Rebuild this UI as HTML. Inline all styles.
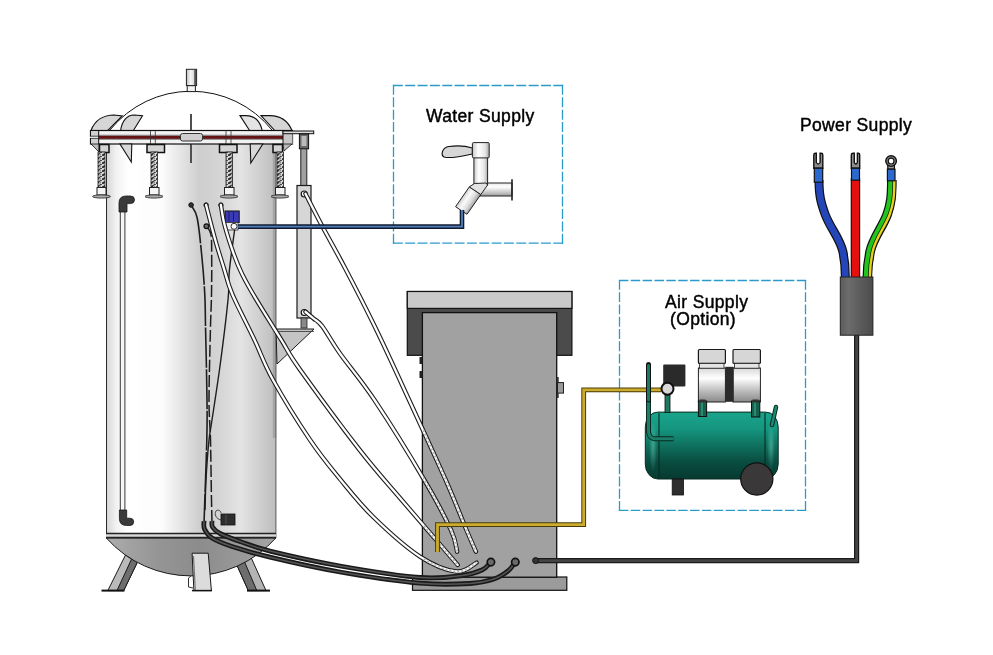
<!DOCTYPE html>
<html><head><meta charset="utf-8">
<style>
html,body{margin:0;padding:0;background:#fff;width:993px;height:655px;overflow:hidden}
svg{display:block}
text{font-family:"Liberation Sans",sans-serif;fill:#000;stroke:#000;stroke-width:0.45px;letter-spacing:0.35px}
</style></head><body>
<svg width="993" height="655" viewBox="0 0 993 655">
<defs>
<linearGradient id="tankG" x1="106" x2="276" y1="0" y2="0" gradientUnits="userSpaceOnUse">
<stop offset="0" stop-color="#d4d4d4"/><stop offset="0.06" stop-color="#f2f2f2"/><stop offset="0.13" stop-color="#ffffff"/>
<stop offset="0.33" stop-color="#fcfcfc"/><stop offset="0.55" stop-color="#cecece"/><stop offset="0.66" stop-color="#d4d4d4"/><stop offset="0.79" stop-color="#e4e4e4"/>
<stop offset="0.93" stop-color="#cacaca"/><stop offset="1" stop-color="#bdbdbd"/>
</linearGradient>
<linearGradient id="bdomeG" x1="106" x2="276" y1="0" y2="0" gradientUnits="userSpaceOnUse">
<stop offset="0" stop-color="#adadad"/><stop offset="0.3" stop-color="#959595"/><stop offset="0.55" stop-color="#8c8c8c"/><stop offset="0.8" stop-color="#999999"/><stop offset="1" stop-color="#a6a6a6"/>
</linearGradient>
<linearGradient id="nozG" x1="0" x2="1" y1="0" y2="0">
<stop offset="0" stop-color="#bdbdbd"/><stop offset="0.4" stop-color="#f4f4f4"/><stop offset="1" stop-color="#c8c8c8"/>
</linearGradient>
<pattern id="thread" x="0" y="0" width="6" height="4" patternUnits="userSpaceOnUse">
<rect width="6" height="4" fill="#d8d8d8"/><path d="M0,3 L6,0 M0,4 L3,2.5" stroke="#2a2a2a" stroke-width="1.1"/><rect x="3.5" y="2.2" width="1.2" height="1.2" fill="#555"/>
</pattern>
<linearGradient id="tealG" x1="0" x2="0" y1="0" y2="1">
<stop offset="0" stop-color="#1aa48c"/><stop offset="0.25" stop-color="#15967f"/><stop offset="0.5" stop-color="#0f705e"/><stop offset="0.75" stop-color="#094c40"/><stop offset="1" stop-color="#063a31"/>
</linearGradient>
<linearGradient id="motorG" x1="0" x2="0" y1="0" y2="1">
<stop offset="0" stop-color="#d8d8d8"/><stop offset="0.3" stop-color="#ffffff"/><stop offset="0.7" stop-color="#b8b8b8"/><stop offset="1" stop-color="#8a8a8a"/>
</linearGradient>
<linearGradient id="sheathG" x1="0" x2="1" y1="0" y2="0">
<stop offset="0" stop-color="#5c5c5c"/><stop offset="0.25" stop-color="#6c6c6c"/><stop offset="0.6" stop-color="#5c5c5c"/><stop offset="1" stop-color="#4c4c4c"/>
</linearGradient>
</defs>
<!-- ===== Dashed boxes ===== -->
<line x1="392.9" y1="85.5" x2="563.1" y2="85.5" stroke="#2a9acb" stroke-width="1.3" stroke-dasharray="9.94,2.40"/>
<line x1="562.5" y1="84.8" x2="562.5" y2="243.8" stroke="#2a9acb" stroke-width="1.3" stroke-dasharray="10.02,2.40"/>
<line x1="392.9" y1="243.2" x2="563.1" y2="243.2" stroke="#2a9acb" stroke-width="1.3" stroke-dasharray="9.94,2.40"/>
<line x1="393.5" y1="84.8" x2="393.5" y2="243.8" stroke="#2a9acb" stroke-width="1.3" stroke-dasharray="10.02,2.40"/>
<line x1="618.9" y1="280.5" x2="806.1" y2="280.5" stroke="#2a9acb" stroke-width="1.3" stroke-dasharray="9.46,2.40"/>
<line x1="805.5" y1="279.9" x2="805.5" y2="511.0" stroke="#2a9acb" stroke-width="1.3" stroke-dasharray="9.89,2.40"/>
<line x1="618.9" y1="510.4" x2="806.1" y2="510.4" stroke="#2a9acb" stroke-width="1.3" stroke-dasharray="9.46,2.40"/>
<line x1="619.5" y1="279.9" x2="619.5" y2="511.0" stroke="#2a9acb" stroke-width="1.3" stroke-dasharray="9.89,2.40"/>
<!-- ===== Texts ===== -->
<g style="will-change:transform"><text x="426" y="122" font-size="17.5">Water Supply</text>
<text x="665" y="308" font-size="17.5">Air Supply</text>
<text x="670" y="325" font-size="17.5">(Option)</text>
<text x="800" y="131" font-size="17.5">Power Supply</text></g>
<g id="tank">
  <!-- legs -->
  <polygon points="125.5,555 137,563 123.7,590.6 107.8,590.6" fill="#bababa" stroke="#1a1a1a" stroke-width="1"/>
  <polygon points="131.6,559 137,563 123.7,590.6 117,590.6" fill="#6e6e6e"/>
  <line x1="137" y1="563" x2="123.7" y2="590.6" stroke="#1a1a1a" stroke-width="1"/>
  <line x1="131.6" y1="559" x2="117" y2="590.6" stroke="#1a1a1a" stroke-width="1"/>
  <line x1="101.5" y1="590.6" x2="124.5" y2="590.6" stroke="#111" stroke-width="2"/>
  <polygon points="237.3,566 251.3,558 266,590.6 248.3,590.6" fill="#b4b4b4" stroke="#1a1a1a" stroke-width="1"/>
  <polygon points="237.3,566 244.6,562 256.8,590.6 248.3,590.6" fill="#6e6e6e"/>
  <line x1="237.3" y1="566" x2="248.3" y2="590.6" stroke="#1a1a1a" stroke-width="1"/>
  <line x1="244.6" y1="562" x2="256.8" y2="590.6" stroke="#1a1a1a" stroke-width="1"/>
  <line x1="247" y1="590.6" x2="270" y2="590.6" stroke="#111" stroke-width="2"/>
  <!-- bottom dome -->
  <path d="M106.3,538 A113.7,113.7 0 0 0 275.8,538 Z" fill="url(#bdomeG)" stroke="#1a1a1a" stroke-width="1"/>
  <!-- drain -->
  <path d="M191,576 L188.5,578 L188.5,587 L193,588" fill="none" stroke="#333" stroke-width="1"/>
  <!-- middle leg -->
  <polygon points="192.1,553.2 208.2,553.2 211.4,590.6 193.9,590.6" fill="#dcdcdc" stroke="#1a1a1a" stroke-width="1"/>
  <line x1="193.5" y1="556" x2="195.3" y2="590" stroke="#777" stroke-width="1.2"/>
  <line x1="192" y1="590.6" x2="212" y2="590.6" stroke="#111" stroke-width="1.5"/>
  <!-- cylinder -->
  <rect x="106" y="144" width="170" height="390" fill="url(#tankG)"/>
  <line x1="106.5" y1="144" x2="106.5" y2="538" stroke="#2a2a2a" stroke-width="1"/>
  <rect x="272.8" y="144" width="3.4" height="294" fill="#a4a4a4"/>
  <line x1="275.9" y1="144" x2="275.9" y2="538" stroke="#666" stroke-width="1.1"/>
  <rect x="106" y="533" width="170" height="5" fill="#d8d8d8"/>
  <line x1="106" y1="533.5" x2="276" y2="533.5" stroke="#222" stroke-width="1.3"/>
  <line x1="106" y1="537.5" x2="276" y2="537.5" stroke="#222" stroke-width="1.3"/>
  <!-- top dome -->
  <path d="M110,130 A104,104 0 0 1 272,130" fill="#fff" stroke="#111" stroke-width="1"/>
  <rect x="187.2" y="85.6" width="8.2" height="6" fill="#f4f4f4" stroke="#222" stroke-width="1"/>
  <rect x="186.4" y="69.3" width="10.2" height="16.3" fill="url(#nozG)" stroke="#222" stroke-width="1"/>
  <rect x="194.2" y="70" width="1.8" height="15" fill="#555"/>
  <!-- fins above band -->
  <path d="M91,130.5 C95,120 104,115 114,115 L122.2,116 L107.8,130.5 Z" fill="#d6d6d6" stroke="#111" stroke-width="1.1"/>
  <path d="M120.6,130.5 C122,121 127,115 134,115 L142.5,115.8 L133.4,130.5 Z" fill="#d6d6d6" stroke="#111" stroke-width="1.1"/>
  <path d="M240,115.6 L249.6,130.5 L262.2,130.5 C260,121 254,115.6 246,115.6 Z" fill="#e4e4e4" stroke="#111" stroke-width="1.1"/>
  <path d="M261,115.6 L274.8,130.5 L292,130.5 C288,121 280,115.6 270,115.6 Z" fill="#d6d6d6" stroke="#111" stroke-width="1.1"/>
  <!-- band -->
  <rect x="90.5" y="130.5" width="202" height="13.5" fill="#f2f2f2" stroke="#111" stroke-width="1.2"/>
  <rect x="98.7" y="135.7" width="184.3" height="3.2" fill="#641414"/>
  <line x1="91" y1="135.2" x2="283" y2="135.2" stroke="#444" stroke-width="0.6"/>
  <line x1="91" y1="139.4" x2="283" y2="139.4" stroke="#444" stroke-width="0.6"/>
  <rect x="91" y="131" width="8" height="13" fill="#d0d0d0"/>
  <line x1="86" y1="137.3" x2="99" y2="137.3" stroke="#fff" stroke-width="1.2"/>
  <line x1="91" y1="136.2" x2="99" y2="136.2" stroke="#222" stroke-width="0.8"/>
  <line x1="91" y1="138.4" x2="99" y2="138.4" stroke="#222" stroke-width="0.8"/>
  <rect x="283" y="131" width="9.5" height="13" fill="#c8c8c8"/>
  <line x1="98.7" y1="130.5" x2="98.7" y2="144" stroke="#111" stroke-width="1"/>
  <line x1="283" y1="130.5" x2="283" y2="144" stroke="#111" stroke-width="1"/>
  <line x1="150.5" y1="130.5" x2="150.5" y2="144" stroke="#333" stroke-width="0.8"/>
  <line x1="155.3" y1="130.5" x2="155.3" y2="144" stroke="#333" stroke-width="0.8"/>
  <line x1="226" y1="130.5" x2="226" y2="144" stroke="#333" stroke-width="0.8"/>
  <line x1="231" y1="130.5" x2="231" y2="144" stroke="#333" stroke-width="0.8"/>
  <rect x="180.5" y="133.5" width="22" height="7.5" rx="2" fill="#cfcfcf" stroke="#333" stroke-width="1"/>
  <line x1="191" y1="114" x2="191" y2="130.5" stroke="#222" stroke-width="1.6"/>
  <line x1="191" y1="144" x2="191" y2="163" stroke="#222" stroke-width="1.5"/>
  <!-- lower fins -->
  <polygon points="120,144 131.8,144 131.3,162" fill="#d8d8d8" stroke="#111" stroke-width="1.1"/>
  <polygon points="250.2,144 262.8,144 250.8,163" fill="#d8d8d8" stroke="#111" stroke-width="1.1"/>
  <polygon points="91,144 99,144 99,152" fill="#bbb" stroke="#111" stroke-width="0.8"/>
  <polygon points="283,144 292,144 284,151" fill="#bbb" stroke="#111" stroke-width="0.8"/>
  <!-- swing bolts -->
  <g id="bolt1" transform="translate(0,0)">
    <rect x="99.5" y="144.5" width="9.5" height="8" fill="#d4d4d4" stroke="#111" stroke-width="1.5"/>
    <rect x="98" y="152" width="7" height="36" fill="url(#thread)" stroke="#222" stroke-width="0.8"/>
    <rect x="97" y="187.5" width="9" height="7.5" fill="#f4f4f4" stroke="#222" stroke-width="1"/>
    <ellipse cx="101.5" cy="196.5" rx="9" ry="1.6" fill="#aaa" stroke="#222" stroke-width="0.8"/>
  </g>
  <g>
    <rect x="147" y="144.5" width="17.5" height="8" fill="#d4d4d4" stroke="#111" stroke-width="1.5"/>
    <rect x="151" y="152" width="6.5" height="36" fill="url(#thread)" stroke="#222" stroke-width="0.8"/>
    <rect x="149.5" y="187.5" width="9.5" height="7.5" fill="#f4f4f4" stroke="#222" stroke-width="1"/>
    <ellipse cx="154" cy="196.5" rx="9" ry="1.6" fill="#aaa" stroke="#222" stroke-width="0.8"/>
  </g>
  <g>
    <rect x="219.5" y="144.5" width="17.5" height="8" fill="#d4d4d4" stroke="#111" stroke-width="1.5"/>
    <rect x="226" y="152" width="6.5" height="36" fill="url(#thread)" stroke="#222" stroke-width="0.8"/>
    <rect x="224.5" y="187.5" width="9.5" height="7.5" fill="#f4f4f4" stroke="#222" stroke-width="1"/>
    <ellipse cx="229" cy="196.5" rx="9" ry="1.6" fill="#aaa" stroke="#222" stroke-width="0.8"/>
  </g>
  <g>
    <rect x="273" y="144.5" width="9.5" height="8" fill="#d4d4d4" stroke="#111" stroke-width="1.5"/>
    <rect x="277" y="152" width="6.5" height="36" fill="url(#thread)" stroke="#222" stroke-width="0.8"/>
    <rect x="275.5" y="187.5" width="9.5" height="7.5" fill="#f4f4f4" stroke="#222" stroke-width="1"/>
    <ellipse cx="280" cy="196.5" rx="9" ry="1.6" fill="#aaa" stroke="#222" stroke-width="0.8"/>
  </g>
  <!-- post & strut -->
  <rect x="283" y="131" width="30.7" height="2.7" fill="#ddd" stroke="#111" stroke-width="1"/>
  <rect x="299.4" y="134" width="9.2" height="14.8" fill="#6a6a6a" stroke="#111" stroke-width="1"/>
  <rect x="301.5" y="136" width="5" height="10" fill="#bbb"/>
  <rect x="300.8" y="148.8" width="6" height="37" fill="#a0a0a0" stroke="#222" stroke-width="1"/>
  <rect x="297" y="185.5" width="14" height="132.5" fill="#d6d6d6" stroke="#1a1a1a" stroke-width="1.2"/>
  <circle cx="304.2" cy="194" r="3" fill="#fff" stroke="#111" stroke-width="1.2"/>
  <circle cx="304.2" cy="312.5" r="3" fill="#fff" stroke="#111" stroke-width="1.2"/>
  <rect x="301" y="318" width="6" height="10" fill="#888" stroke="#222" stroke-width="0.8"/>
  <polygon points="276,329 314,329 277,364" fill="#c4c4c4" stroke="#1a1a1a" stroke-width="1"/>
  <line x1="276" y1="331.5" x2="314" y2="331.5" stroke="#333" stroke-width="0.8"/>
  <!-- sight glass -->
  <rect x="120.3" y="211" width="4.6" height="300" fill="#f6f6f6" stroke="#3a3a3a" stroke-width="1"/>
  <path d="M119,212 L119,203 Q119,196 126,196 L130.5,196 Q134.5,196 134.5,199.8 Q134.5,203.6 130.5,203.6 L127,203.6 L127,212 Z" fill="#3a3a3a" stroke="#1a1a1a" stroke-width="0.8"/>
  <path d="M119.4,510 L119.4,518.5 Q119.4,525.5 126.5,525.5 L130,525.5 Q133.7,525.5 133.7,521.8 Q133.7,518.2 130,518.2 L126.7,518.2 L126.7,510 Z" fill="#3a3a3a" stroke="#1a1a1a" stroke-width="0.8"/>
  <!-- small box near bottom -->
  <path d="M221,520 C216,519 214,514 216,511 C218,509 221,511 221,513" fill="none" stroke="#333" stroke-width="0.9"/>
  <rect x="221" y="514" width="14" height="11" fill="#2e2e2e" stroke="#111" stroke-width="0.8"/>
  <line x1="226" y1="514.5" x2="226" y2="524.5" stroke="#555" stroke-width="0.8"/>
</g>
<!-- ===== Cabinet ===== -->
<g id="cabinet">
  <rect x="407.3" y="291.5" width="164.6" height="63.8" fill="#4b4b4b" stroke="#111" stroke-width="1.2"/>
  <rect x="407.3" y="291.5" width="164.6" height="16.9" fill="#c9c9c9" stroke="#111" stroke-width="1.2"/>
  <rect x="412.5" y="577" width="154.3" height="13.3" fill="#9b9b9b" stroke="#111" stroke-width="1.2"/>
  <rect x="422.4" y="312.6" width="134.3" height="264.6" fill="#a1a1a1" stroke="#111" stroke-width="1.3"/>
  <rect x="419.5" y="357" width="3" height="7" fill="#222"/>
  <rect x="419.5" y="371" width="3" height="7" fill="#222"/>
  <rect x="556.7" y="377" width="2" height="21" fill="#333"/>
  <rect x="557.5" y="382.6" width="6" height="10.5" fill="#9a9a9a" stroke="#222" stroke-width="1"/>
</g>
<!-- ===== Water tap ===== -->
<defs>
<linearGradient id="stemG" x1="0" x2="1" y1="0" y2="0">
<stop offset="0" stop-color="#c8c8c8"/><stop offset="0.35" stop-color="#ffffff"/><stop offset="0.75" stop-color="#e6e6e6"/><stop offset="1" stop-color="#a8a8a8"/>
</linearGradient>
<linearGradient id="spoutG" x1="0" x2="0" y1="0" y2="1">
<stop offset="0" stop-color="#e8e8e8"/><stop offset="0.3" stop-color="#ffffff"/><stop offset="0.75" stop-color="#c4c4c4"/><stop offset="1" stop-color="#9a9a9a"/>
</linearGradient>
<linearGradient id="inletG" x1="462.4" y1="196.8" x2="473.9" y2="204.4" gradientUnits="userSpaceOnUse">
<stop offset="0" stop-color="#d0d0d0"/><stop offset="0.35" stop-color="#fbfbfb"/><stop offset="0.7" stop-color="#dcdcdc"/><stop offset="1" stop-color="#a0a0a0"/>
</linearGradient>
</defs>
<g id="tap">
  <rect x="225" y="211" width="14.2" height="11.5" fill="#3a3ab4" stroke="#111" stroke-width="1"/>
  <line x1="229" y1="212" x2="229" y2="221.5" stroke="#1a1a6a" stroke-width="1"/>
  <line x1="233.5" y1="212" x2="233.5" y2="221.5" stroke="#1a1a6a" stroke-width="1"/>
  <rect x="225" y="222.5" width="13" height="7.5" fill="#f0f0f0" stroke="#333" stroke-width="0.8"/>
  <circle cx="234" cy="226.3" r="3" fill="#fff" stroke="#333" stroke-width="1"/>
  <!-- tap body -->
  <rect x="480" y="183" width="32" height="13" fill="url(#spoutG)" stroke="#222" stroke-width="1"/>
  <line x1="512" y1="179.2" x2="512" y2="200.6" stroke="#222" stroke-width="1.6"/>
  <rect x="473.9" y="157" width="13.7" height="28" fill="url(#stemG)" stroke="#222" stroke-width="1"/>
  <polygon points="455.6,206.7 467,214.3 480.8,194.5 469.3,186.9" fill="url(#inletG)" stroke="#222" stroke-width="1"/>
  <polygon points="469.3,186.9 480.8,194.5 487.6,185 486,183 474.5,183.5" fill="#e2e2e2" stroke="#222" stroke-width="1"/>
  <path d="M472.4,148 C466,146 456,145.5 449,146.5 C442,147.5 440.5,155 444,157 C452,159 462,156 472.4,154 Z" fill="#d6d6d6" stroke="#111" stroke-width="1.2"/>
  <rect x="472.4" y="142.6" width="16.8" height="15.3" rx="1" fill="url(#stemG)" stroke="#222" stroke-width="1"/>
</g>
<defs><clipPath id="cabClip"><rect x="423" y="313" width="134" height="264"/></clipPath></defs>
<g id="hoses">
<path d="M191.1,205.0 C192.1,207.2 195.4,209.5 197.2,218.0 C199.0,226.5 200.5,243.2 201.8,256.0 C203.1,268.8 204.2,282.7 204.8,295.0 C205.4,307.3 205.2,312.5 205.6,330.0 C206.0,347.5 206.8,381.7 207.0,400.0 C207.2,418.3 207.2,423.3 206.8,440.0 C206.4,456.7 205.3,486.0 204.8,500.0 C204.3,514.0 204.1,520.0 204.0,524.0" fill="none" stroke="#1e1e1e" stroke-width="1.6" stroke-dasharray="40,1.5"/>
<path d="M206.4,226.3 C207.2,227.7 210.1,229.1 211.0,234.7 C211.9,240.3 211.6,249.9 211.7,260.0 C211.8,270.1 211.7,283.3 211.5,295.0 C211.3,306.7 210.8,312.5 210.4,330.0 C210.0,347.5 209.0,381.7 209.0,400.0 C209.0,418.3 210.1,423.3 210.5,440.0 C210.9,456.7 211.2,486.0 211.5,500.0 C211.8,514.0 211.9,520.0 212.0,524.0" fill="none" stroke="#1e1e1e" stroke-width="1.5" stroke-dasharray="12,3"/>
<path d="M234.6,230.0 C233.7,236.9 230.4,259.6 229.3,271.3 C228.2,283.0 229.6,284.2 228.0,300.0 C226.4,315.8 222.7,346.0 220.0,366.0 C217.3,386.0 213.9,407.3 212.0,420.0 C210.1,432.7 209.8,432.0 208.8,442.0 C207.8,452.0 206.6,468.7 206.0,480.0 C205.4,491.3 205.2,505.0 205.0,510.0" fill="none" stroke="#1e1e1e" stroke-width="1.4"/>
<circle cx="191.1" cy="205" r="2.3" fill="#333" stroke="#111" stroke-width="1"/>
<circle cx="206.4" cy="226.3" r="2.4" fill="#666" stroke="#111" stroke-width="1.2"/>
<circle cx="206.1" cy="205" r="2.2" fill="#ddd" stroke="#222" stroke-width="1"/>
<circle cx="220.9" cy="205" r="2.2" fill="#ddd" stroke="#222" stroke-width="1"/>
<path d="M206.1,205.0 C207.7,211.0 212.5,230.2 215.5,240.8 C218.5,251.4 221.1,259.4 223.9,268.3 C226.7,277.2 227.2,282.2 232.3,294.2 C237.4,306.1 247.7,325.7 254.5,340.0 C261.3,354.3 263.8,363.3 273.1,380.0 C282.4,396.7 298.9,423.4 310.1,440.0 C321.3,456.6 329.8,466.6 340.3,479.4 C350.8,492.2 360.0,504.1 373.3,517.0 C386.6,529.9 406.1,547.5 420.0,556.6 C433.9,565.7 447.2,570.5 456.6,571.5 C466.0,572.5 473.2,564.2 476.5,562.7" fill="none" stroke="#1e1e1e" stroke-width="4.5" stroke-linecap="round"/>
<path d="M206.1,205.0 C207.7,211.0 212.5,230.2 215.5,240.8 C218.5,251.4 221.1,259.4 223.9,268.3 C226.7,277.2 227.2,282.2 232.3,294.2 C237.4,306.1 247.7,325.7 254.5,340.0 C261.3,354.3 263.8,363.3 273.1,380.0 C282.4,396.7 298.9,423.4 310.1,440.0 C321.3,456.6 329.8,466.6 340.3,479.4 C350.8,492.2 360.0,504.1 373.3,517.0 C386.6,529.9 406.1,547.5 420.0,556.6 C433.9,565.7 447.2,570.5 456.6,571.5 C466.0,572.5 473.2,564.2 476.5,562.7" fill="none" stroke="#ffffff" stroke-width="2.3" stroke-linecap="round"/>
<path d="M206.1,205.0 C207.7,211.0 212.5,230.2 215.5,240.8 C218.5,251.4 221.1,259.4 223.9,268.3 C226.7,277.2 227.2,282.2 232.3,294.2 C237.4,306.1 247.7,325.7 254.5,340.0 C261.3,354.3 263.8,363.3 273.1,380.0 C282.4,396.7 298.9,423.4 310.1,440.0 C321.3,456.6 329.8,466.6 340.3,479.4 C350.8,492.2 360.0,504.1 373.3,517.0 C386.6,529.9 406.1,547.5 420.0,556.6 C433.9,565.7 447.2,570.5 456.6,571.5 C466.0,572.5 473.2,564.2 476.5,562.7" fill="none" stroke="#b8b8b8" stroke-width="2.3" stroke-dasharray="2,2" clip-path="url(#cabClip)"/>
<path d="M220.9,205.0 C221.5,208.4 222.5,217.2 224.7,225.5 C226.9,233.8 231.0,246.3 233.9,254.5 C236.8,262.6 238.5,266.8 242.3,274.4 C246.1,282.0 250.1,289.1 256.6,300.0 C263.1,310.9 274.2,328.4 281.4,340.0 C288.6,351.6 286.9,351.3 300.0,369.6 C313.1,387.9 342.8,428.3 359.7,450.0 C376.6,471.7 385.4,480.9 401.7,500.0 C418.0,519.1 448.4,554.1 457.7,564.9" fill="none" stroke="#1e1e1e" stroke-width="4.5" stroke-linecap="round"/>
<path d="M220.9,205.0 C221.5,208.4 222.5,217.2 224.7,225.5 C226.9,233.8 231.0,246.3 233.9,254.5 C236.8,262.6 238.5,266.8 242.3,274.4 C246.1,282.0 250.1,289.1 256.6,300.0 C263.1,310.9 274.2,328.4 281.4,340.0 C288.6,351.6 286.9,351.3 300.0,369.6 C313.1,387.9 342.8,428.3 359.7,450.0 C376.6,471.7 385.4,480.9 401.7,500.0 C418.0,519.1 448.4,554.1 457.7,564.9" fill="none" stroke="#ffffff" stroke-width="2.3" stroke-linecap="round"/>
<path d="M220.9,205.0 C221.5,208.4 222.5,217.2 224.7,225.5 C226.9,233.8 231.0,246.3 233.9,254.5 C236.8,262.6 238.5,266.8 242.3,274.4 C246.1,282.0 250.1,289.1 256.6,300.0 C263.1,310.9 274.2,328.4 281.4,340.0 C288.6,351.6 286.9,351.3 300.0,369.6 C313.1,387.9 342.8,428.3 359.7,450.0 C376.6,471.7 385.4,480.9 401.7,500.0 C418.0,519.1 448.4,554.1 457.7,564.9" fill="none" stroke="#b8b8b8" stroke-width="2.3" stroke-dasharray="2,2" clip-path="url(#cabClip)"/>
<path d="M305.5,193.8 C308.2,199.0 315.0,212.6 321.6,225.0 C328.2,237.4 335.9,250.7 345.0,268.0 C354.1,285.3 365.3,307.0 376.0,329.0 C386.7,351.0 397.5,374.8 409.1,400.0 C420.7,425.2 436.1,458.3 445.7,480.0 C455.3,501.7 461.5,518.1 466.5,530.0 C471.5,541.9 474.3,548.0 475.9,551.6" fill="none" stroke="#1e1e1e" stroke-width="4.5" stroke-linecap="round"/>
<path d="M305.5,193.8 C308.2,199.0 315.0,212.6 321.6,225.0 C328.2,237.4 335.9,250.7 345.0,268.0 C354.1,285.3 365.3,307.0 376.0,329.0 C386.7,351.0 397.5,374.8 409.1,400.0 C420.7,425.2 436.1,458.3 445.7,480.0 C455.3,501.7 461.5,518.1 466.5,530.0 C471.5,541.9 474.3,548.0 475.9,551.6" fill="none" stroke="#ffffff" stroke-width="2.3" stroke-linecap="round"/>
<path d="M305.5,193.8 C308.2,199.0 315.0,212.6 321.6,225.0 C328.2,237.4 335.9,250.7 345.0,268.0 C354.1,285.3 365.3,307.0 376.0,329.0 C386.7,351.0 397.5,374.8 409.1,400.0 C420.7,425.2 436.1,458.3 445.7,480.0 C455.3,501.7 461.5,518.1 466.5,530.0 C471.5,541.9 474.3,548.0 475.9,551.6" fill="none" stroke="#b8b8b8" stroke-width="2.3" stroke-dasharray="2,2" clip-path="url(#cabClip)"/>
<path d="M305.5,311.8 C306.8,312.9 310.7,316.1 313.5,318.5 C316.3,320.9 317.9,320.5 322.3,326.3 C326.7,332.1 331.3,341.2 340.0,353.5 C348.7,365.8 360.4,378.9 374.5,400.0 C388.6,421.1 411.6,458.3 424.3,480.0 C437.1,501.7 445.5,518.1 451.0,530.0 C456.5,541.9 456.1,548.0 457.1,551.6" fill="none" stroke="#1e1e1e" stroke-width="4.5" stroke-linecap="round"/>
<path d="M305.5,311.8 C306.8,312.9 310.7,316.1 313.5,318.5 C316.3,320.9 317.9,320.5 322.3,326.3 C326.7,332.1 331.3,341.2 340.0,353.5 C348.7,365.8 360.4,378.9 374.5,400.0 C388.6,421.1 411.6,458.3 424.3,480.0 C437.1,501.7 445.5,518.1 451.0,530.0 C456.5,541.9 456.1,548.0 457.1,551.6" fill="none" stroke="#ffffff" stroke-width="2.3" stroke-linecap="round"/>
<path d="M305.5,311.8 C306.8,312.9 310.7,316.1 313.5,318.5 C316.3,320.9 317.9,320.5 322.3,326.3 C326.7,332.1 331.3,341.2 340.0,353.5 C348.7,365.8 360.4,378.9 374.5,400.0 C388.6,421.1 411.6,458.3 424.3,480.0 C437.1,501.7 445.5,518.1 451.0,530.0 C456.5,541.9 456.1,548.0 457.1,551.6" fill="none" stroke="#b8b8b8" stroke-width="2.3" stroke-dasharray="2,2" clip-path="url(#cabClip)"/>
<path d="M212.0,521.0 C212.1,522.0 211.2,524.9 212.5,527.0 C213.8,529.1 215.4,531.1 220.0,533.5 C224.6,535.9 231.7,538.6 240.0,541.5 C248.3,544.4 253.3,547.0 270.0,551.1 C286.7,555.2 315.0,561.6 340.0,566.0 C365.0,570.4 399.7,575.9 420.0,577.5 C440.3,579.1 451.7,576.8 462.0,575.5 C472.3,574.2 477.2,572.2 482.0,570.0 C486.8,567.8 489.4,563.4 490.9,562.1" fill="none" stroke="#1a1a1a" stroke-width="4.8"/>
<path d="M212.0,521.0 C212.1,522.0 211.2,524.9 212.5,527.0 C213.8,529.1 215.4,531.1 220.0,533.5 C224.6,535.9 231.7,538.6 240.0,541.5 C248.3,544.4 253.3,547.0 270.0,551.1 C286.7,555.2 315.0,561.6 340.0,566.0 C365.0,570.4 399.7,575.9 420.0,577.5 C440.3,579.1 451.7,576.8 462.0,575.5 C472.3,574.2 477.2,572.2 482.0,570.0 C486.8,567.8 489.4,563.4 490.9,562.1" fill="none" stroke="#555" stroke-width="1.5"/>
<path d="M204.0,521.0 C204.1,522.3 203.2,526.2 204.5,529.0 C205.8,531.8 207.4,535.1 212.0,538.0 C216.6,540.9 222.3,543.3 232.0,546.5 C241.7,549.7 252.0,553.0 270.0,557.2 C288.0,561.5 315.0,567.7 340.0,572.0 C365.0,576.3 398.3,581.3 420.0,583.2 C441.7,585.1 457.7,584.2 470.0,583.5 C482.3,582.8 487.7,581.1 494.0,579.0 C500.3,576.9 504.4,573.8 508.0,571.0 C511.6,568.2 514.1,563.6 515.3,562.1" fill="none" stroke="#1a1a1a" stroke-width="4.8"/>
<path d="M204.0,521.0 C204.1,522.3 203.2,526.2 204.5,529.0 C205.8,531.8 207.4,535.1 212.0,538.0 C216.6,540.9 222.3,543.3 232.0,546.5 C241.7,549.7 252.0,553.0 270.0,557.2 C288.0,561.5 315.0,567.7 340.0,572.0 C365.0,576.3 398.3,581.3 420.0,583.2 C441.7,585.1 457.7,584.2 470.0,583.5 C482.3,582.8 487.7,581.1 494.0,579.0 C500.3,576.9 504.4,573.8 508.0,571.0 C511.6,568.2 514.1,563.6 515.3,562.1" fill="none" stroke="#555" stroke-width="1.5"/>
<circle cx="490.9" cy="562.1" r="3.7" fill="#6a6a6a" stroke="#111" stroke-width="1.7"/>
<circle cx="515.3" cy="562.1" r="3.7" fill="#6a6a6a" stroke="#111" stroke-width="1.7"/>
</g>
  <path d="M238,226.6 L462,226.6 L462,210" fill="none" stroke="#121a30" stroke-width="4.6"/>
  <path d="M238,226.6 L462,226.6 L462,210" fill="none" stroke="#4f7fb8" stroke-width="1.8"/>
<path d="M437.5,552 L437.5,524.6 L583.7,524.6 L583.7,389.8 L661,389.8" fill="none" stroke="#4a3c08" stroke-width="4.8" stroke-linejoin="miter"/>
<path d="M437.5,552 L437.5,524.6 L583.7,524.6 L583.7,389.8 L661,389.8" fill="none" stroke="#ccac2c" stroke-width="2.8" stroke-linejoin="miter"/>
<!-- ===== Power ===== -->
<g id="power">
  <path d="M535,560.6 L856.6,560.6 L856.6,335" fill="none" stroke="#1a1a1a" stroke-width="5.2"/>
  <path d="M535,560.6 L856.6,560.6 L856.6,335" fill="none" stroke="#444" stroke-width="2.8"/>
  <circle cx="535.6" cy="560.6" r="3" fill="#333" stroke="#111" stroke-width="1"/>
  <path d="M819,180 C819,196 821,203 825,214 C830,228 840,238 843,252 C845,262 845.4,270 845.4,278" fill="none" stroke="#111" stroke-width="9"/>
  <path d="M819,180 C819,196 821,203 825,214 C830,228 840,238 843,252 C845,262 845.4,270 845.4,278" fill="none" stroke="#2446b8" stroke-width="6.6"/>
  <rect x="851.3" y="179" width="8.3" height="99" fill="#e41010" stroke="#111" stroke-width="1.2"/>
  <path d="M891.8,180 C891.8,196 891,204 887,215 C882,228 873,238 870,252 C868,262 867.3,270 867.3,278" fill="none" stroke="#111" stroke-width="9.6"/>
  <path d="M891.8,180 C891.8,196 891,204 887,215 C882,228 873,238 870,252 C868,262 867.3,270 867.3,278" fill="none" stroke="#22c41e" stroke-width="7.2"/>
  <path d="M894.3,180 C894.3,196 893.5,204 889.5,215 C884.5,228 875.5,238 872.5,252 C870.5,262 869.8,270 869.8,278" fill="none" stroke="#111" stroke-width="3.8"/>
  <path d="M894.3,180 C894.3,196 893.5,204 889.5,215 C884.5,228 875.5,238 872.5,252 C870.5,262 869.8,270 869.8,278" fill="none" stroke="#e6d21e" stroke-width="2.4"/>
  <rect x="840.3" y="277" width="32.6" height="58.2" fill="url(#sheathG)" stroke="#222" stroke-width="1"/>
  <!-- terminals -->
  <path d="M813.8,168.2 L813.8,155 Q813.8,153.3 815.5,153.3 L816.3,153.3 L816.3,162.5 Q818.2,165.5 820.1,162.5 L820.1,153.3 L821.2,153.3 Q822.8,153.3 822.8,155 L822.8,168.2 Z" fill="#8c8c8c" stroke="#111" stroke-width="1.4"/>
  <path d="M851.3,168.2 L851.3,155 Q851.3,153.3 853,153.3 L854.3,153.3 L854.3,162.5 Q855.9,165.5 857.4,162.5 L857.4,153.3 L858.2,153.3 Q859.7,153.3 859.7,155 L859.7,168.2 Z" fill="#8c8c8c" stroke="#111" stroke-width="1.4"/>
  <path d="M887.8,169.2 L887.8,164 L894.4,164 L894.4,169.2 Z" fill="#9a9a9a" stroke="#111" stroke-width="1.2"/>
  <circle cx="891.1" cy="161.1" r="5.3" fill="#8a8a8a" stroke="#111" stroke-width="1.4"/>
  <circle cx="891.1" cy="161.1" r="2.9" fill="#fff" stroke="#111" stroke-width="1.2"/>
  <rect x="814.3" y="168.2" width="8.4" height="14" fill="#2a6ad0" stroke="#111" stroke-width="1.2"/>
  <rect x="851.5" y="168.2" width="8" height="12" fill="#2a6ad0" stroke="#111" stroke-width="1.2"/>
  <rect x="887.4" y="169.2" width="7.6" height="11.6" fill="#2a6ad0" stroke="#111" stroke-width="1.2"/>
</g>
<!-- ===== Compressor ===== -->
<defs><radialGradient id="capHi"><stop offset="0" stop-color="#6fe0c8" stop-opacity="0.45"/><stop offset="1" stop-color="#6fe0c8" stop-opacity="0"/></radialGradient></defs>
<g id="compressor">
  <rect x="645.3" y="412.1" width="132.9" height="66.9" rx="12.5" ry="15" fill="url(#tealG)" stroke="#0a2a22" stroke-width="1"/>
  <ellipse cx="653" cy="446" rx="4" ry="26" fill="url(#capHi)"/>
  <ellipse cx="771" cy="446" rx="4" ry="24" fill="url(#capHi)"/>
  <line x1="659" y1="413" x2="659" y2="478.5" stroke="#0a2a22" stroke-width="1.1"/>
  <line x1="765" y1="413" x2="765" y2="478.5" stroke="#0a2a22" stroke-width="1.1"/>
  <path d="M648.5,366 L648.5,432 Q649.5,438.7 655,438.7 L673.5,438.7" fill="none" stroke="#0a2a22" stroke-width="5"/>
  <path d="M648.5,366 L648.5,432 Q649.5,438.7 655,438.7 L673.5,438.7" fill="none" stroke="#1a7e68" stroke-width="3"/>
  <rect x="672.2" y="479" width="11.3" height="16" fill="#2e2e2e" stroke="#111" stroke-width="0.8"/>
  <circle cx="756.8" cy="479" r="16.1" fill="#3a3838" stroke="#111" stroke-width="1.2"/>
  <path d="M772,425 L776,407" stroke="#0a2a22" stroke-width="4.5" stroke-linecap="round"/>
  <path d="M772,425 L776,407" stroke="#1a8a70" stroke-width="2.5" stroke-linecap="round"/>
  <rect x="698.4" y="368" width="27" height="34" fill="url(#motorG)" stroke="#222" stroke-width="1"/>
  <rect x="733" y="368" width="27.4" height="34" fill="url(#motorG)" stroke="#222" stroke-width="1"/>
  <rect x="698.4" y="349.5" width="27" height="13.9" rx="1" fill="#d6d6d6" stroke="#1a1a1a" stroke-width="1.2"/>
  <rect x="733" y="349.5" width="27.4" height="13.9" rx="1" fill="#d6d6d6" stroke="#1a1a1a" stroke-width="1.2"/>
  <rect x="699.5" y="363.4" width="24.5" height="4.8" fill="#e4e4e4" stroke="#222" stroke-width="0.8"/>
  <rect x="734.5" y="363.4" width="24.5" height="4.8" fill="#e4e4e4" stroke="#222" stroke-width="0.8"/>
  <rect x="725.4" y="366.8" width="8.2" height="35" fill="#2a2a2a"/>
  <rect x="698.4" y="401" width="8.2" height="15.5" fill="#17604e" stroke="#111" stroke-width="1"/>
  <rect x="751.5" y="401" width="8.3" height="16" fill="#17604e" stroke="#111" stroke-width="1"/>
  <rect x="701" y="402" width="2" height="14" fill="#2a8a72"/>
  <rect x="754" y="402" width="2" height="14" fill="#2a8a72"/>
  <rect x="699.5" y="399.5" width="6" height="3" fill="#333"/>
  <rect x="752.5" y="399.5" width="6" height="3" fill="#333"/>
  <rect x="663.2" y="364.4" width="22.2" height="22" rx="1" fill="#2a2a2a"/>
  <rect x="665" y="395" width="5" height="17.5" fill="#1a7a62" stroke="#111" stroke-width="0.8"/>
</g>
<!-- pipe over yellow & gauge -->
<path d="M648.5,364.5 L648.5,400" fill="none" stroke="#111" stroke-width="5" stroke-linecap="round"/>
<path d="M648.5,365.5 L648.5,400" fill="none" stroke="#187a62" stroke-width="3" stroke-linecap="round"/>
<circle cx="667.5" cy="388.8" r="6" fill="#d8d8d8" stroke="#111" stroke-width="2"/>
</svg>
</body></html>
